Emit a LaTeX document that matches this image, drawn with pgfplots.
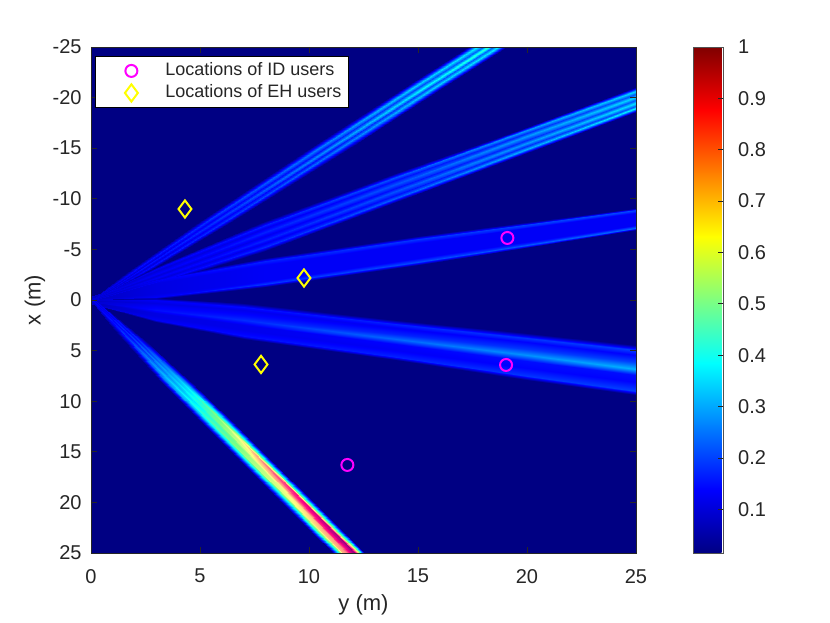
\documentclass[border=0pt]{standalone}
\usepackage{fontspec}
\setmainfont{Liberation Sans}
\usepackage{pgfplots}
\pgfplotsset{compat=1.18}
\definecolor{axgray}{rgb}{0.15,0.15,0.15}
\definecolor{bgnavy}{RGB}{0,0,131}
\definecolor{mag}{RGB}{255,0,255}
\definecolor{yel}{RGB}{255,255,0}
\begin{document}
\begin{tikzpicture}
\begin{axis}[
  scale only axis, width=272.5pt, height=253pt,
  xmin=0, xmax=25, ymin=-25, ymax=25, y dir=reverse, enlargelimits=false,
  xtick={0,5,...,25}, ytick={-25,-20,...,25},
  tick align=inside, major tick length=3pt,
  tick style={axgray, line width=0.4pt},
  axis on top,
  axis background/.style={fill=bgnavy},
  axis line style={draw=axgray, line width=0.4pt},
  colormap={myjet}{rgb255(0cm)=(0,0,131); rgb255(1cm)=(0,0,255); rgb255(3cm)=(0,255,255); rgb255(5cm)=(255,255,0); rgb255(7cm)=(255,0,0); rgb255(8cm)=(128,0,0)},
  point meta min=0.015, point meta max=1,
  colorbar,
  colorbar style={
    at={(parent axis.north east)}, anchor=north west, xshift=20pt,
    width=15pt,
    ytick={0.1,0.2,0.3,0.4,0.5,0.6,0.7,0.8,0.9,1},
    yticklabel style={font=\fontsize{10}{12}\selectfont, text=axgray, /pgf/number format/assume math mode=true, /pgf/number format/fixed, xshift=4pt},
    axis line style={draw=axgray!80, line width=0.4pt},
    tick align=inside, major tick length=2.5pt, ytick pos=right,
    tick style={axgray, line width=0.4pt},
  },
  tick label style={font=\fontsize{10}{12}\selectfont, text=axgray},
  /pgf/number format/assume math mode=true,
  xticklabel style={yshift=-4.5pt},
  yticklabel style={xshift=-1.2pt},
  xlabel={y (m)}, ylabel={x (m)},
  label style={font=\fontsize{11}{13}\selectfont, text=axgray},
  xlabel style={at={(axis description cs:0.5,-0.1028)}, anchor=center},
  ylabel style={at={(axis description cs:-0.1028,0.5)}, anchor=center},
  legend style={at={(axis description cs:0,1)}, anchor=north west, xshift=2pt, yshift=-4.5pt,
    draw=black, line width=0.4pt, fill=white, font=\fontsize{9}{11}\selectfont, text=black!85,
    inner xsep=1pt, inner ysep=1.75pt, row sep=0pt, nodes={inner xsep=2.5pt, inner ysep=1.5pt}, cells={anchor=west}},
  legend image code/.code={\path (0pt,0pt) (30.5pt,0pt); \draw[mark repeat=2,mark phase=2,#1] plot coordinates {(0pt,0pt) (16.5pt,0pt) (33pt,0pt)};},
]
\coordinate (BL) at (axis description cs:0,0);
\coordinate (TR) at (axis description cs:1,1);

% beam 3 (middle upper)
\addplot[surf, shader=interp, mesh/cols=7, point meta=explicit, forget plot, blend mode=lighten]
 table[row sep=\\, meta=c] {
 x y c\\
 0 -0.4 0.015\\ 0 -0.36 0.09\\ 0 -0.31 0.08\\ 0 -0.2 0.08\\ 0 -0.09 0.08\\ 0 -0.04 0.09\\ 0 0 0.015\\
 3 -2.14 0.015\\ 3 -1.94 0.13\\ 3 -1.69 0.11\\ 3 -1.14 0.11\\ 3 -0.59 0.11\\ 3 -0.34 0.13\\ 3 -0.14 0.015\\
 8 -4.15 0.015\\ 8 -3.86 0.17\\ 8 -3.50 0.13\\ 8 -2.70 0.13\\ 8 -1.90 0.13\\ 8 -1.54 0.19\\ 8 -1.25 0.015\\
 15 -6.28 0.015\\ 15 -6.00 0.19\\ 15 -5.65 0.13\\ 15 -4.88 0.13\\ 15 -4.11 0.13\\ 15 -3.76 0.21\\ 15 -3.48 0.015\\
 25 -9.1 0.015\\ 25 -8.88 0.21\\ 25 -8.61 0.13\\ 25 -8.0 0.13\\ 25 -7.40 0.13\\ 25 -7.12 0.24\\ 25 -6.9 0.015\\
 };

% beam 4 (lower shallow)
\addplot[surf, shader=interp, mesh/cols=9, point meta=explicit, forget plot, blend mode=lighten]
 table[row sep=\\, meta=c] {
 x y c\\
 0 0 0.015\\ 0 0.04 0.09\\ 0 0.08 0.08\\ 0 0.14 0.09\\ 0 0.19 0.09\\ 0 0.24 0.08\\ 0 0.3 0.08\\ 0 0.37 0.09\\ 0 0.4 0.015\\
 3 -0.2 0.015\\ 3 0.04 0.13\\ 3 0.28 0.11\\ 3 0.64 0.13\\ 3 0.94 0.15\\ 3 1.24 0.11\\ 3 1.6 0.11\\ 3 2.02 0.13\\ 3 2.2 0.015\\
 7 0.33 0.015\\ 7 0.68 0.15\\ 7 1.03 0.12\\ 7 1.56 0.15\\ 7 1.99 0.18\\ 7 2.43 0.12\\ 7 2.96 0.12\\ 7 3.57 0.15\\ 7 3.83 0.015\\
 14 1.95 0.015\\ 14 2.35 0.17\\ 14 2.75 0.13\\ 14 3.35 0.17\\ 14 3.85 0.24\\ 14 4.35 0.14\\ 14 4.95 0.13\\ 14 5.65 0.17\\ 14 5.95 0.015\\
 20 3.26 0.015\\ 20 3.72 0.19\\ 20 4.18 0.14\\ 20 4.87 0.19\\ 20 5.45 0.28\\ 20 6.02 0.15\\ 20 6.71 0.14\\ 20 7.52 0.19\\ 20 7.86 0.015\\
 25 4.4 0.015\\ 25 4.9 0.2\\ 25 5.4 0.14\\ 25 6.15 0.2\\ 25 6.78 0.31\\ 25 7.4 0.15\\ 25 8.15 0.14\\ 25 9.03 0.2\\ 25 9.4 0.015\\
 };

% beam 2 (upper shallow)
\addplot[surf, shader=interp, mesh/cols=9, point meta=explicit, forget plot, blend mode=lighten]
 table[row sep=\\, meta=c] {
 x y c\\
 0 -0.2 0.015\\ 0 -0.14 0.1\\ 0 -0.1 0.08\\ 0 -0.05 0.1\\ 0 0 0.08\\ 0 0.05 0.1\\ 0 0.1 0.08\\ 0 0.14 0.1\\ 0 0.2 0.015\\
 3 -3.28 0.015\\ 3 -3.03 0.13\\ 3 -2.83 0.1\\ 3 -2.61 0.13\\ 3 -2.38 0.1\\ 3 -2.16 0.13\\ 3 -1.93 0.1\\ 3 -1.73 0.13\\ 3 -1.48 0.015\\
 8 -7.84 0.015\\ 8 -7.42 0.17\\ 8 -7.09 0.12\\ 8 -6.72 0.17\\ 8 -6.34 0.12\\ 8 -5.97 0.17\\ 8 -5.59 0.12\\ 8 -5.26 0.18\\ 8 -4.84 0.015\\
 14 -12.54 0.015\\ 14 -12.13 0.22\\ 14 -11.82 0.15\\ 14 -11.45 0.22\\ 14 -11.09 0.15\\ 14 -10.73 0.22\\ 14 -10.37 0.15\\ 14 -10.05 0.23\\ 14 -9.64 0.015\\
 20 -17.14 0.015\\ 20 -16.78 0.29\\ 20 -16.49 0.18\\ 20 -16.17 0.29\\ 20 -15.84 0.18\\ 20 -15.52 0.29\\ 20 -15.19 0.18\\ 20 -14.90 0.31\\ 20 -14.54 0.015\\
 25 -21.0 0.015\\ 25 -20.66 0.35\\ 25 -20.4 0.22\\ 25 -20.1 0.35\\ 25 -19.8 0.22\\ 25 -19.5 0.36\\ 25 -19.2 0.22\\ 25 -18.94 0.38\\ 25 -18.6 0.015\\
 };

% beam 1 (upper steep)
\addplot[surf, shader=interp, mesh/cols=7, point meta=explicit, forget plot, blend mode=lighten]
 table[row sep=\\, meta=c] {
 x y c\\
 0 0 0.015\\ 0.03 0 0.1\\ 0.07 0 0.08\\ 0.1 0 0.1\\ 0.13 0 0.08\\ 0.17 0 0.1\\ 0.25 0 0.015\\
 1.80 -3 0.015\\ 2.0 -3 0.15\\ 2.135 -3 0.1\\ 2.27 -3 0.15\\ 2.405 -3 0.1\\ 2.54 -3 0.15\\ 2.74 -3 0.015\\
 5.12 -8 0.015\\ 5.47 -8 0.19\\ 5.68 -8 0.13\\ 5.89 -8 0.19\\ 6.10 -8 0.13\\ 6.31 -8 0.19\\ 6.66 -8 0.015\\
 10.06 -15 0.015\\ 10.48 -15 0.26\\ 10.72 -15 0.16\\ 10.96 -15 0.28\\ 11.2 -15 0.16\\ 11.44 -15 0.26\\ 11.86 -15 0.015\\
 14.4 -21 0.015\\ 14.82 -21 0.34\\ 15.06 -21 0.21\\ 15.3 -21 0.38\\ 15.54 -21 0.21\\ 15.78 -21 0.34\\ 16.2 -21 0.015\\
 17.3 -25 0.015\\ 17.72 -25 0.37\\ 17.96 -25 0.23\\ 18.2 -25 0.44\\ 18.44 -25 0.23\\ 18.68 -25 0.37\\ 19.1 -25 0.015\\
 };

% beam 5 (lower steep, strong)
\addplot[surf, shader=interp, mesh/cols=9, point meta=explicit, forget plot, blend mode=lighten]
 table[row sep=\\, meta=c] {
 x y c\\
 0 0 0.015\\ 0.02 0 0.1\\ 0.05 0 0.12\\ 0.08 0 0.1\\ 0.11 0 0.12\\ 0.14 0 0.1\\ 0.17 0 0.12\\ 0.21 0 0.1\\ 0.25 0 0.015\\
 1.48 4 0.015\\ 1.68 4 0.15\\ 1.80 4 0.2\\ 1.92 4 0.15\\ 2.01 4 0.2\\ 2.10 4 0.15\\ 2.19 4 0.18\\ 2.31 4 0.13\\ 2.48 4 0.015\\
 3.15 8 0.015\\ 3.45 8 0.26\\ 3.61 8 0.34\\ 3.77 8 0.29\\ 3.89 8 0.34\\ 4.01 8 0.31\\ 4.13 8 0.34\\ 4.29 8 0.24\\ 4.55 8 0.015\\
 4.98 12 0.015\\ 5.32 12 0.35\\ 5.48 12 0.46\\ 5.65 12 0.43\\ 5.78 12 0.5\\ 5.90 12 0.5\\ 6.02 12 0.55\\ 6.18 12 0.37\\ 6.48 12 0.015\\
 6.86 16 0.015\\ 7.20 16 0.39\\ 7.36 16 0.55\\ 7.53 16 0.55\\ 7.66 16 0.65\\ 7.78 16 0.7\\ 7.90 16 0.75\\ 8.06 16 0.44\\ 8.36 16 0.015\\
 8.73 20 0.015\\ 9.07 20 0.43\\ 9.23 20 0.62\\ 9.40 20 0.65\\ 9.53 20 0.78\\ 9.65 20 0.85\\ 9.77 20 0.9\\ 9.93 20 0.52\\ 10.23 20 0.015\\
 10.14 23 0.015\\ 10.48 23 0.45\\ 10.64 23 0.68\\ 10.81 23 0.72\\ 10.94 23 0.85\\ 11.06 23 0.92\\ 11.18 23 0.96\\ 11.34 23 0.56\\ 11.64 23 0.015\\
 11.08 25 0.015\\ 11.42 25 0.47\\ 11.58 25 0.7\\ 11.75 25 0.75\\ 11.88 25 0.88\\ 12.0 25 0.95\\ 12.12 25 1.0\\ 12.28 25 0.6\\ 12.58 25 0.015\\
 };

\addplot[only marks, mark=o, mark size=3pt, draw=mag, line width=1pt] coordinates {(19.1,-6.13) (19.04,6.42) (11.76,16.3)};
\addlegendentry{Locations of ID users}
\addplot[only marks, mark=diamond, mark size=4.3pt, draw=yel, line width=1pt] coordinates {(4.31,-8.99) (9.77,-2.17) (7.80,6.37)};
\addlegendentry{Locations of EH users}
\end{axis}
\path (BL) ++(-45.5pt,-35pt) rectangle ([shift={(97pt,23.5pt)}]TR);
\end{tikzpicture}
\end{document}
